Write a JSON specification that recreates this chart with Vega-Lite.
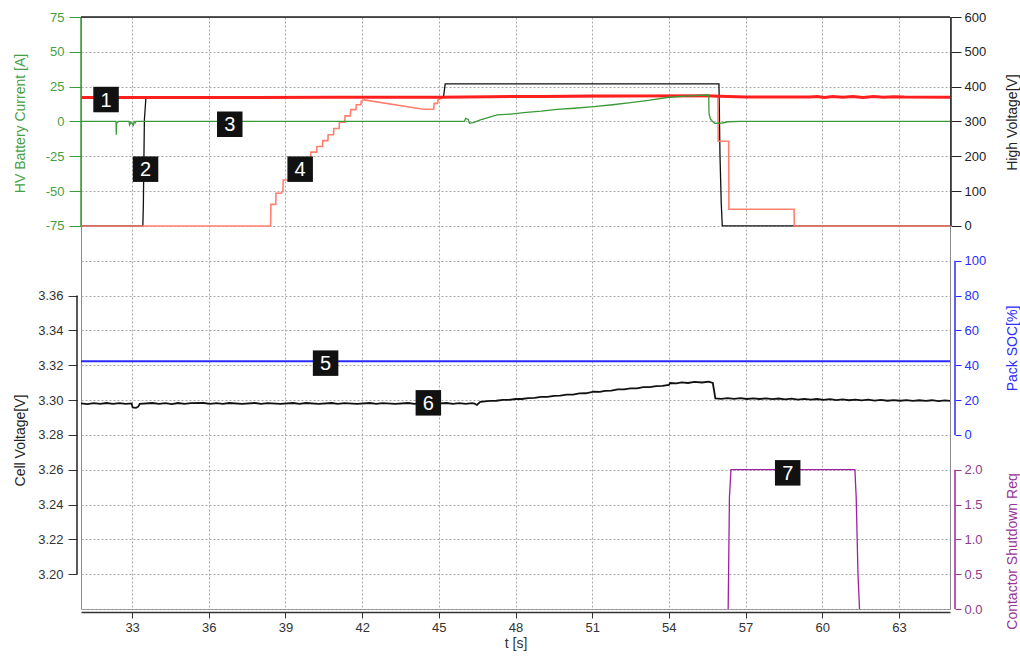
{
  "$schema": "https://vega.github.io/schema/vega-lite/v6.json",
  "width": 869,
  "height": 592,
  "autosize": {"type": "none"},
  "padding": {"left": 81, "top": 17, "right": 70, "bottom": 49},
  "background": "white",
  "config": {
    "font": "Liberation Sans",
    "view": {"stroke": "#8a8a8a", "strokeWidth": 1},
    "axis": {"labelFont": "Liberation Sans", "titleFont": "Liberation Sans", "labelFontSize": 13, "titleFontSize": 14, "titleFontWeight": "normal", "grid": false}
  },
  "datasets": {
    "current": [
      {"t": 31, "v": 0}, {"t": 32.37, "v": 0}, {"t": 32.38, "v": -9.5}, {"t": 32.39, "v": -1}, {"t": 32.43, "v": -0.8}, {"t": 32.46, "v": 0},
      {"t": 32.88, "v": 0}, {"t": 32.9, "v": -2.5}, {"t": 32.95, "v": -0.5}, {"t": 33.0, "v": -1.5}, {"t": 33.05, "v": -2.8}, {"t": 33.08, "v": 0}, {"t": 33.12, "v": -1}, {"t": 33.15, "v": 0},
      {"t": 46.0, "v": 0}, {"t": 46.05, "v": 2.3}, {"t": 46.15, "v": 1.5}, {"t": 46.2, "v": -1.3}, {"t": 46.35, "v": -0.9}, {"t": 46.6, "v": 1.0},
      {"t": 47.28, "v": 4.7}, {"t": 47.8, "v": 5.3}, {"t": 48.32, "v": 6.3}, {"t": 49.0, "v": 7.4}, {"t": 49.63, "v": 8.7}, {"t": 50.3, "v": 9.5}, {"t": 51.06, "v": 10.6},
      {"t": 51.8, "v": 12.0}, {"t": 52.5, "v": 13.5}, {"t": 53.2, "v": 15.2}, {"t": 54.0, "v": 17.4}, {"t": 54.8, "v": 18.4}, {"t": 55.5, "v": 19.0},
      {"t": 55.56, "v": 18.8}, {"t": 55.57, "v": 6}, {"t": 55.62, "v": 2}, {"t": 55.7, "v": 0.2}, {"t": 55.8, "v": -1.3}, {"t": 56.1, "v": -1.1}, {"t": 56.3, "v": -0.2}, {"t": 56.8, "v": 0}, {"t": 65, "v": 0}
    ],
    "hv": [
      {"t": 31, "v": 0}, {"t": 33.42, "v": 0}, {"t": 33.44, "v": 62}, {"t": 33.48, "v": 305}, {"t": 33.54, "v": 368}, {"t": 34, "v": 369},
      {"t": 45.18, "v": 369.5}, {"t": 45.25, "v": 408}, {"t": 55.96, "v": 408}, {"t": 56.0, "v": 205}, {"t": 56.05, "v": 65}, {"t": 56.09, "v": 0}, {"t": 65, "v": 0}
    ],
    "link": [
      {"t": 31, "v": 0}, {"t": 38.42, "v": 0}, {"t": 38.43, "v": 62}, {"t": 38.62, "v": 62}, {"t": 38.63, "v": 94}, {"t": 38.84, "v": 94}, {"t": 38.85, "v": 98}, {"t": 38.9, "v": 98},
      {"t": 38.91, "v": 132}, {"t": 39.15, "v": 132}, {"t": 39.16, "v": 152}, {"t": 39.42, "v": 152}, {"t": 39.43, "v": 172}, {"t": 39.7, "v": 172}, {"t": 39.71, "v": 192}, {"t": 39.98, "v": 192},
      {"t": 39.99, "v": 212}, {"t": 40.22, "v": 212}, {"t": 40.23, "v": 228}, {"t": 40.45, "v": 228}, {"t": 40.46, "v": 245}, {"t": 40.66, "v": 245}, {"t": 40.67, "v": 262}, {"t": 40.88, "v": 262},
      {"t": 40.89, "v": 280}, {"t": 41.1, "v": 280}, {"t": 41.11, "v": 298}, {"t": 41.32, "v": 298}, {"t": 41.33, "v": 316}, {"t": 41.54, "v": 316}, {"t": 41.55, "v": 334}, {"t": 41.76, "v": 334},
      {"t": 41.77, "v": 348}, {"t": 41.95, "v": 348}, {"t": 41.96, "v": 358}, {"t": 42.08, "v": 362}, {"t": 44.4, "v": 335}, {"t": 44.8, "v": 335}, {"t": 44.82, "v": 352}, {"t": 44.95, "v": 352},
      {"t": 44.97, "v": 362}, {"t": 45.15, "v": 368}, {"t": 45.3, "v": 370}, {"t": 50, "v": 371}, {"t": 55.5, "v": 372}, {"t": 55.92, "v": 372}, {"t": 55.93, "v": 243}, {"t": 56.34, "v": 243},
      {"t": 56.35, "v": 48}, {"t": 58.9, "v": 48}, {"t": 58.91, "v": 0}, {"t": 65, "v": 0}
    ],
    "pack": [
      {"t": 31, "v": 368.8}, {"t": 36, "v": 369}, {"t": 41, "v": 369.2}, {"t": 45, "v": 369.6}, {"t": 47, "v": 371}, {"t": 49, "v": 372}, {"t": 51, "v": 372.8}, {"t": 53, "v": 373.5},
      {"t": 55.5, "v": 374}, {"t": 56.0, "v": 372.5}, {"t": 57, "v": 370.5}, {"t": 59.5, "v": 370}, {"t": 59.8, "v": 372}, {"t": 60.1, "v": 369}, {"t": 60.4, "v": 371.5}, {"t": 60.8, "v": 369.5},
      {"t": 61.2, "v": 372}, {"t": 61.6, "v": 369}, {"t": 62.0, "v": 371.5}, {"t": 62.4, "v": 369.5}, {"t": 62.8, "v": 371}, {"t": 63.2, "v": 370}, {"t": 65, "v": 369.8}
    ],
    "soc": [{"t": 31, "v": 42.3}, {"t": 65, "v": 42.3}],
    "cell": [
      {"t": 31.0, "v": 3.2981}, {"t": 31.25, "v": 3.2977}, {"t": 31.5, "v": 3.2982}, {"t": 31.75, "v": 3.2978}, {"t": 32.0, "v": 3.2983}, {"t": 32.25, "v": 3.2978}, {"t": 32.5, "v": 3.2982},
      {"t": 32.75, "v": 3.2978}, {"t": 32.98, "v": 3.2981}, {"t": 33.02, "v": 3.2958}, {"t": 33.15, "v": 3.2955},
      {"t": 33.24, "v": 3.2962}, {"t": 33.3, "v": 3.2978}, {"t": 33.8, "v": 3.2983}, {"t": 34.05, "v": 3.2978}, {"t": 34.3, "v": 3.2982}, {"t": 34.55, "v": 3.2977}, {"t": 34.8, "v": 3.2983}, {"t": 35.05, "v": 3.2978}, {"t": 35.3, "v": 3.2982}, {"t": 35.8, "v": 3.2983},
      {"t": 36.05, "v": 3.2978}, {"t": 36.3, "v": 3.2982}, {"t": 36.55, "v": 3.2978}, {"t": 36.8, "v": 3.2983}, {"t": 37.3, "v": 3.2978}, {"t": 37.8, "v": 3.2983}, {"t": 38.05, "v": 3.2978}, {"t": 38.3, "v": 3.2982}, {"t": 38.8, "v": 3.2978}, {"t": 39.3, "v": 3.2983},
      {"t": 39.55, "v": 3.2978}, {"t": 39.8, "v": 3.2983}, {"t": 40.3, "v": 3.2978}, {"t": 40.8, "v": 3.2983}, {"t": 41.05, "v": 3.2978}, {"t": 41.3, "v": 3.2982}, {"t": 41.8, "v": 3.2978}, {"t": 42.3, "v": 3.2983}, {"t": 42.55, "v": 3.2978}, {"t": 42.8, "v": 3.2982},
      {"t": 43.3, "v": 3.2978}, {"t": 43.8, "v": 3.2983}, {"t": 44.05, "v": 3.2978}, {"t": 44.3, "v": 3.2982}, {"t": 44.8, "v": 3.2978}, {"t": 45.3, "v": 3.2983}, {"t": 45.55, "v": 3.2978}, {"t": 45.8, "v": 3.2982}, {"t": 46.05, "v": 3.2978}, {"t": 46.3, "v": 3.2982},
      {"t": 46.4, "v": 3.2979}, {"t": 46.49, "v": 3.2972}, {"t": 46.62, "v": 3.299}, {"t": 47.0, "v": 3.2995}, {"t": 47.25, "v": 3.2996}, {"t": 47.5, "v": 3.3001}, {"t": 47.75, "v": 3.3001}, {"t": 48.0, "v": 3.3006}, {"t": 48.25, "v": 3.3006}, {"t": 48.5, "v": 3.3011},
      {"t": 48.75, "v": 3.3012}, {"t": 49.0, "v": 3.3018}, {"t": 49.25, "v": 3.3018}, {"t": 49.5, "v": 3.3024}, {"t": 49.75, "v": 3.3025}, {"t": 50.0, "v": 3.3031}, {"t": 50.25, "v": 3.3031}, {"t": 50.5, "v": 3.3038}, {"t": 50.75, "v": 3.3039}, {"t": 51.06, "v": 3.3048}, {"t": 51.3, "v": 3.3047}, {"t": 51.5, "v": 3.3053}, {"t": 51.75, "v": 3.3054}, {"t": 52.0, "v": 3.3061},
      {"t": 52.25, "v": 3.3061}, {"t": 52.5, "v": 3.3067}, {"t": 52.75, "v": 3.3067}, {"t": 53.0, "v": 3.3074}, {"t": 53.25, "v": 3.3074}, {"t": 53.5, "v": 3.308}, {"t": 53.75, "v": 3.3081}, {"t": 54.0, "v": 3.3087}, {"t": 54.05, "v": 3.3098}, {"t": 54.3, "v": 3.3096}, {"t": 54.5, "v": 3.3101}, {"t": 54.75, "v": 3.3098}, {"t": 55.0, "v": 3.3104},
      {"t": 55.3, "v": 3.3101}, {"t": 55.56, "v": 3.3106}, {"t": 55.72, "v": 3.3098}, {"t": 55.82, "v": 3.301}, {"t": 56.05, "v": 3.3007}, {"t": 56.3, "v": 3.3011}, {"t": 56.55, "v": 3.3007}, {"t": 56.8, "v": 3.3011}, {"t": 57.05, "v": 3.3006}, {"t": 57.3, "v": 3.301},
      {"t": 57.55, "v": 3.3006}, {"t": 57.8, "v": 3.301}, {"t": 58.05, "v": 3.3005}, {"t": 58.3, "v": 3.3009}, {"t": 58.55, "v": 3.3004}, {"t": 58.8, "v": 3.3008}, {"t": 59.05, "v": 3.3003}, {"t": 59.3, "v": 3.3007}, {"t": 59.55, "v": 3.3002}, {"t": 59.8, "v": 3.3006}, {"t": 60.05, "v": 3.3001}, {"t": 60.3, "v": 3.3005}, {"t": 60.55, "v": 3.3}, {"t": 60.8, "v": 3.3004},
      {"t": 61.05, "v": 3.2999}, {"t": 61.3, "v": 3.3003}, {"t": 61.55, "v": 3.2998}, {"t": 61.8, "v": 3.3002}, {"t": 62.05, "v": 3.2997}, {"t": 62.3, "v": 3.3001}, {"t": 62.55, "v": 3.2996}, {"t": 62.8, "v": 3.3}, {"t": 63.05, "v": 3.2996}, {"t": 63.3, "v": 3.3},
      {"t": 63.55, "v": 3.2995}, {"t": 63.8, "v": 3.2999}, {"t": 64.05, "v": 3.2995}, {"t": 64.3, "v": 3.2999}, {"t": 64.55, "v": 3.2994}, {"t": 64.8, "v": 3.2998}, {"t": 65.0, "v": 3.2995}
    ],
    "csr": [
      {"t": 56.32, "v": 0}, {"t": 56.34, "v": 0.6}, {"t": 56.37, "v": 1.6}, {"t": 56.43, "v": 2.0}, {"t": 61.28, "v": 2.0}, {"t": 61.33, "v": 1.6}, {"t": 61.4, "v": 0.5}, {"t": 61.46, "v": 0}
    ],
    "labels": [
      {"t": 31.98, "g": 14.63, "n": "1"}, {"t": 33.525, "g": 12.63, "n": "2"}, {"t": 36.82, "g": 13.92, "n": "3"}, {"t": 39.575, "g": 12.63, "n": "4"},
      {"t": 40.57, "g": 7.06, "n": "5"}, {"t": 44.59, "g": 5.92, "n": "6"}, {"t": 58.65, "g": 3.91, "n": "7"}
    ]
  },
  "encoding": {
    "x": {
      "field": "t", "type": "quantitative",
      "scale": {"domain": [31, 65], "nice": false, "zero": false},
      "axis": {
        "values": [33, 36, 39, 42, 45, 48, 51, 54, 57, 60, 63], "title": "t [s]", "grid": true, "gridDash": [2, 2], "gridColor": "#a8a8a8",
        "domainColor": "#333333", "domainWidth": 1.5, "offset": 3, "tickColor": "#333333", "tickSize": 6, "labelColor": "#333333",
        "labelFontSize": 13, "labelPadding": 3, "titleColor": "#333333", "titlePadding": 2, "labelFlush": false
      }
    }
  },
  "layer": [
    {
      "data": {"name": "hv"},
      "mark": {"type": "line", "color": "#111111", "strokeWidth": 1.3},
      "encoding": {"y": {"field": "v", "type": "quantitative", "scale": {"domain": [-1100, 600], "nice": false, "zero": false},
        "axis": {"orient": "right", "values": [0, 100, 200, 300, 400, 500, 600], "format": "d", "title": "High Voltage[V]", "domain": false,
          "tickColor": "#222222", "tickSize": 10, "offset": 1, "labelColor": "#222222", "labelPadding": 3, "titleColor": "#222222",
          "titleAngle": 270, "titleX": 61, "titleY": 105, "titleAlign": "center", "titleBaseline": "middle"}}}
    },
    {
      "data": {"name": "link"},
      "mark": {"type": "line", "color": "#ff806e", "strokeWidth": 1.6},
      "encoding": {"y": {"field": "v", "type": "quantitative", "scale": {"domain": [-1100, 600], "nice": false, "zero": false}, "axis": null}}
    },
    {
      "data": {"name": "pack"},
      "mark": {"type": "line", "color": "#ff1f1f", "strokeWidth": 3},
      "encoding": {"y": {"field": "v", "type": "quantitative", "scale": {"domain": [-1100, 600], "nice": false, "zero": false}, "axis": null}}
    },
    {
      "data": {"name": "current"},
      "mark": {"type": "line", "color": "#3a9a3a", "strokeWidth": 1.3},
      "encoding": {"y": {"field": "v", "type": "quantitative", "scale": {"domain": [-350, 75], "nice": false, "zero": false},
        "axis": {"orient": "left", "values": [-75, -50, -25, 0, 25, 50, 75], "labelExpr": "'' + datum.value", "title": "HV Battery Current [A]", "domain": false,
          "tickColor": "#3a9a3a", "tickSize": 12, "offset": 0, "labelColor": "#45a045", "labelPadding": 5, "titleColor": "#45a045",
          "titleAngle": 270, "titleX": -61, "titleY": 106, "titleAlign": "center", "titleBaseline": "middle"}}}
    },
    {
      "data": {"name": "soc"},
      "mark": {"type": "line", "color": "#2b2bff", "strokeWidth": 2},
      "encoding": {"y": {"field": "v", "type": "quantitative", "scale": {"domain": [-100, 240], "nice": false, "zero": false},
        "axis": {"orient": "right", "values": [0, 20, 40, 60, 80, 100], "format": "d", "title": "Pack SOC[%]", "domain": false,
          "tickColor": "#2b2bff", "tickSize": 6, "offset": 5, "labelColor": "#2b2bff", "labelPadding": 3, "titleColor": "#2b2bff",
          "titleAngle": 270, "titleX": 57, "titleY": 331, "titleAlign": "center", "titleBaseline": "middle"}}}
    },
    {
      "data": {"name": "cell"},
      "mark": {"type": "line", "color": "#111111", "strokeWidth": 1.8},
      "encoding": {"y": {"field": "v", "type": "quantitative", "scale": {"domain": [3.18, 3.52], "nice": false, "zero": false},
        "axis": {"orient": "left", "values": [3.2, 3.22, 3.24, 3.26, 3.28, 3.3, 3.32, 3.34, 3.36], "format": ".2f", "title": "Cell Voltage[V]", "domain": false,
          "tickColor": "#333333", "tickSize": 9, "offset": 4, "labelColor": "#333333", "labelPadding": 5, "titleColor": "#222222",
          "titleAngle": 270, "titleX": -57, "titleY": 423, "titleAlign": "center", "titleBaseline": "middle"}}}
    },
    {
      "data": {"name": "csr"},
      "mark": {"type": "line", "color": "#a020a0", "strokeWidth": 1.3},
      "encoding": {"y": {"field": "v", "type": "quantitative", "scale": {"domain": [0, 8.5], "nice": false, "zero": false},
        "axis": {"orient": "right", "values": [0, 0.5, 1, 1.5, 2], "format": ".1f", "title": "Contactor Shutdown Req", "domain": false,
          "tickColor": "#993399", "tickSize": 6, "offset": 5, "labelColor": "#8e3a8e", "labelPadding": 3, "titleColor": "#993399",
          "titleAngle": 270, "titleX": 57, "titleY": 534, "titleAlign": "center", "titleBaseline": "middle"}}}
    },
    {
      "data": {"values": [{"t": 31, "lo": -75, "hi": 75}]},
      "mark": {"type": "rule", "color": "#3a9a3a", "strokeWidth": 1.5},
      "encoding": {"y": {"field": "lo", "type": "quantitative", "scale": {"domain": [-350, 75], "nice": false, "zero": false}, "axis": null}, "y2": {"field": "hi"}}
    },
    {
      "data": {"values": [{"t": 31, "lo": 3.2, "hi": 3.36}]},
      "mark": {"type": "rule", "color": "#222222", "strokeWidth": 1.5, "xOffset": -4},
      "encoding": {"y": {"field": "lo", "type": "quantitative", "scale": {"domain": [3.18, 3.52], "nice": false, "zero": false}, "axis": null}, "y2": {"field": "hi"}}
    },
    {
      "data": {"values": [{"t": 65, "lo": 0, "hi": 600}]},
      "mark": {"type": "rule", "color": "#222222", "strokeWidth": 1.5, "xOffset": 1},
      "encoding": {"y": {"field": "lo", "type": "quantitative", "scale": {"domain": [-1100, 600], "nice": false, "zero": false}, "axis": null}, "y2": {"field": "hi"}}
    },
    {
      "data": {"values": [{"t": 65, "lo": 0, "hi": 100}]},
      "mark": {"type": "rule", "color": "#2b2bff", "strokeWidth": 1.5, "xOffset": 5},
      "encoding": {"y": {"field": "lo", "type": "quantitative", "scale": {"domain": [-100, 240], "nice": false, "zero": false}, "axis": null}, "y2": {"field": "hi"}}
    },
    {
      "data": {"values": [{"t": 65, "lo": 0, "hi": 2}]},
      "mark": {"type": "rule", "color": "#a020a0", "strokeWidth": 1.5, "xOffset": 5},
      "encoding": {"y": {"field": "lo", "type": "quantitative", "scale": {"domain": [0, 8.5], "nice": false, "zero": false}, "axis": null}, "y2": {"field": "hi"}}
    },
    {
      "data": {"values": [{"t": 31, "t2": 65, "g": 17}]},
      "mark": {"type": "rule", "color": "#222222", "strokeWidth": 1.5},
      "encoding": {"x2": {"field": "t2"}, "y": {"field": "g", "type": "quantitative", "scale": {"domain": [0, 17], "nice": false, "zero": false}, "axis": null}}
    },
    {
      "data": {"name": "labels"},
      "mark": {"type": "point", "shape": "square", "filled": true, "color": "#111111", "size": 650, "opacity": 1},
      "encoding": {"y": {"field": "g", "type": "quantitative", "scale": {"domain": [0, 17], "nice": false, "zero": false},
        "axis": {"orient": "left", "values": [0, 1, 2, 3, 4, 5, 6, 7, 8, 9, 10, 11, 12, 13, 14, 15, 16, 17], "grid": true, "gridDash": [2, 2], "gridColor": "#a8a8a8",
          "labels": false, "ticks": false, "domain": false, "title": null}}}
    },
    {
      "data": {"name": "labels"},
      "mark": {"type": "text", "color": "white", "fontSize": 20, "font": "Liberation Sans", "align": "center", "baseline": "middle", "dy": 1},
      "encoding": {"text": {"field": "n"}, "y": {"field": "g", "type": "quantitative", "scale": {"domain": [0, 17], "nice": false, "zero": false}, "axis": null}}
    }
  ],
  "resolve": {"scale": {"y": "independent"}, "axis": {"y": "independent"}}
}
